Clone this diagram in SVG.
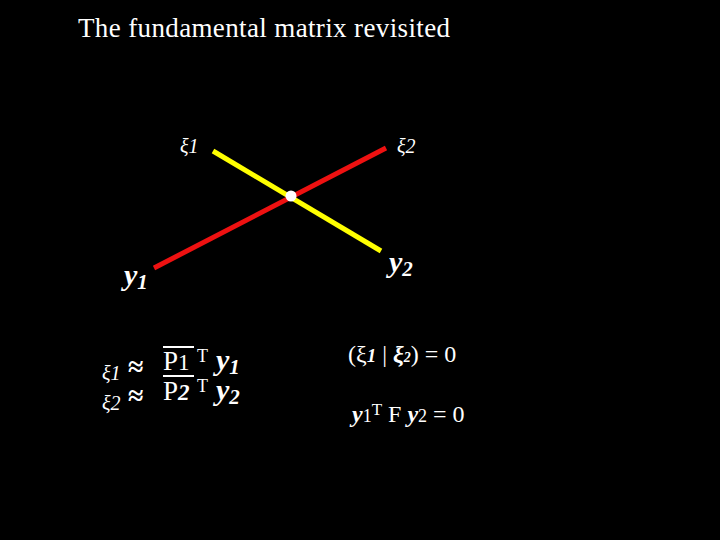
<svg xmlns="http://www.w3.org/2000/svg" width="720" height="540" viewBox="0 0 720 540">
<style>
text{fill:#fff;font-family:"Liberation Serif",serif}
.bi{font-style:italic;font-weight:bold}
.i{font-style:italic}
</style>
<rect width="720" height="540" fill="#000"/>
<text x="78" y="37" font-size="27" textLength="372">The fundamental matrix revisited</text>
<g id="connectors">
<line x1="213" y1="151" x2="381" y2="251" stroke="#ffff00" stroke-width="5"/>
<line x1="154" y1="268" x2="386" y2="148" stroke="#ee1111" stroke-width="5"/>
</g>
<g id="center"><circle cx="291" cy="196" r="5.5" fill="#fff"/></g>
<g id="xi1"><text x="180" y="153" font-size="20" class="i">ξ1</text></g>
<g id="xi2"><text x="397" y="153" font-size="20" class="i">ξ2</text></g>
<g id="y1"><text x="124" y="285" font-size="30" class="bi">y<tspan font-size="21" dy="4">1</tspan></text></g>
<g id="y2"><text x="389" y="272" font-size="30" class="bi">y<tspan font-size="21" dy="4">2</tspan></text></g>
<g id="eq1">
<text x="102" y="380" font-size="20" class="i">ξ1</text>
<text x="128" y="376" font-size="28" font-weight="bold">≈</text>
<text x="163" y="370" font-size="27">P<tspan font-size="23">1</tspan></text>
<line x1="163" y1="347" x2="194" y2="347" stroke="#fff" stroke-width="2"/>
<text x="197" y="362" font-size="18">T</text>
<text x="216" y="370" font-size="30" class="bi">y<tspan font-size="21" dy="4">1</tspan></text>
<text x="102" y="410" font-size="20" class="i">ξ2</text>
<text x="128" y="405" font-size="28" font-weight="bold">≈</text>
<text x="163" y="400" font-size="27">P<tspan font-size="23" class="bi">2</tspan></text>
<line x1="163" y1="376" x2="194" y2="376" stroke="#fff" stroke-width="2"/>
<text x="197" y="392" font-size="18">T</text>
<text x="216" y="400" font-size="30" class="bi">y<tspan font-size="21" dy="4">2</tspan></text>
</g>
<g id="eq2"><text x="348" y="362" font-size="24">(ξ<tspan class="bi" font-size="19">1</tspan> | <tspan class="bi">ξ</tspan><tspan class="bi" font-size="14">2</tspan>) = 0</text></g>
<g id="eq3"><text x="352" y="422" font-size="24"><tspan class="bi">y</tspan><tspan font-size="18">1</tspan><tspan font-size="17" dy="-7">T</tspan><tspan dy="7">  F </tspan><tspan class="bi">y</tspan><tspan font-size="18">2</tspan> = 0</text></g>
</svg>
